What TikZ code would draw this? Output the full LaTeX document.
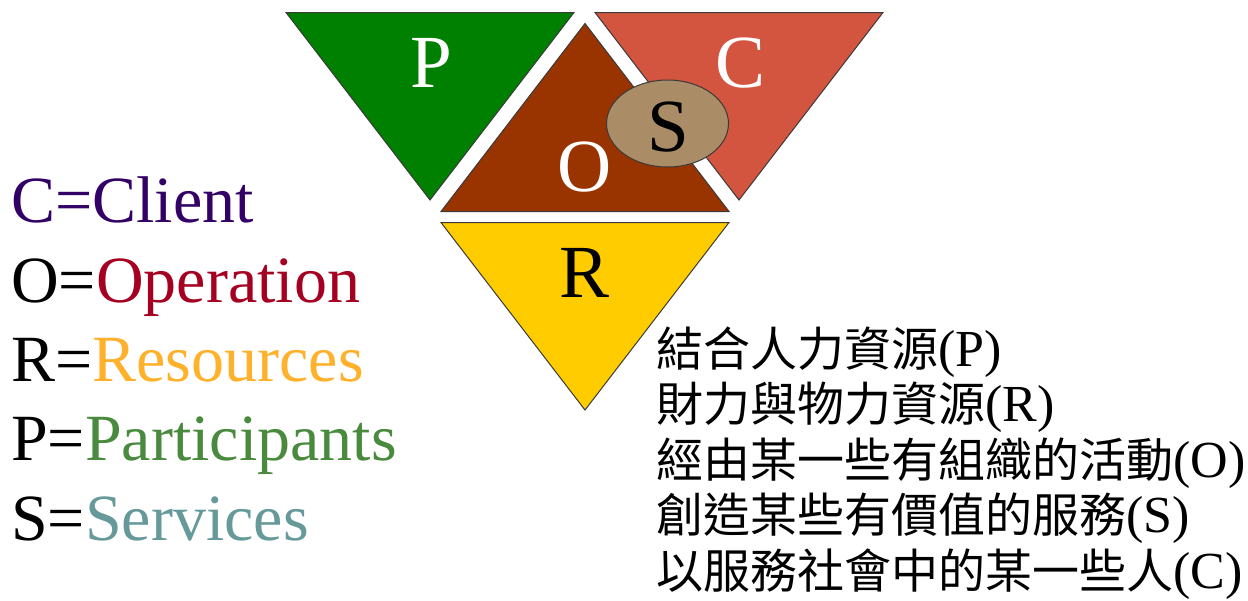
\documentclass[tikz,border=0pt]{standalone}
\usepackage{fontspec}
\usetikzlibrary{shapes.geometric}
\setmainfont{Liberation Serif}
\newfontfamily\cjk{Noto Sans CJK TC}
\newcommand\latpart[1]{{\fontsize{52}{54}\selectfont #1}}
\definecolor{pgreen}{HTML}{008000}
\definecolor{cred}{HTML}{D35540}
\definecolor{obrown}{HTML}{993300}
\definecolor{ryellow}{HTML}{FFCC00}
\definecolor{stan}{HTML}{AA8C66}
\definecolor{edge}{HTML}{3A3A3A}
\definecolor{lclient}{HTML}{330066}
\definecolor{loper}{HTML}{A50021}
\definecolor{lres}{HTML}{FFB12B}
\definecolor{lpart}{HTML}{4A8A3F}
\definecolor{lserv}{HTML}{669999}
\begin{document}
\begin{tikzpicture}[x=1pt,y=-1pt,
  tri/.style={draw=edge,line width=1pt,line join=miter},
  big/.style={inner sep=0,anchor=base,font=\fontsize{75}{80}\selectfont},
  legend/.style={inner sep=0,anchor=base west,font=\fontsize{66}{70}\selectfont},
  zh/.style={inner sep=0,anchor=base west,font=\fontsize{47}{50}\selectfont}]
\useasboundingbox (0,0) rectangle (1248,600);
% triangles
\fill[white] (0,0) rectangle (1248,600);
\draw[tri,fill=pgreen] (286,12.5) -- (574,12.5) -- (430,200) -- cycle;
\draw[tri,fill=cred] (595,12.5) -- (883,12.5) -- (739,200) -- cycle;
\draw[tri,fill=obrown] (585,23.5) -- (729,211.5) -- (441,211.5) -- cycle;
\draw[tri,fill=ryellow] (441,222.5) -- (729,222.5) -- (585,410) -- cycle;
\node[ellipse,draw=edge,line width=1pt,fill=stan,minimum width=122pt,minimum height=87pt,inner sep=0] (sell) at (667.5,123.5) {};
% letters
\node[big,text=white] (lp) at (431,87) {P};
\node[big,text=white] (lc) at (741,87) {C};
\node[big,text=white] (lo) at (585,191) {O};
\node[big,text=black] (ls) at (668,151) {S};
\node[big,text=black] (lr) at (585,297) {R};
% legend
\node[legend] (c1) at (11,222.5) {\textcolor{lclient}{C=Client}};
\node[legend] (c2) at (11,302) {O=\textcolor{loper}{Operation}};
\node[legend] (c3) at (11,381) {R=\textcolor{lres}{Resources}};
\node[legend] (c4) at (11,460.5) {P=\textcolor{lpart}{Participants}};
\node[legend] (c5) at (11,540) {S=\textcolor{lserv}{Services}};
% chinese lines
\node[zh] (z1) at (656,366) {{\cjk 結合人力資源}\latpart{(P)}};
\node[zh] (z2) at (656,421.5) {{\cjk 財力與物力資源}\latpart{(R)}};
\node[zh] (z3) at (656,477) {{\cjk 經由某一些有組織的活動}\latpart{(O)}};
\node[zh] (z4) at (656,532.5) {{\cjk 創造某些有價值的服務}\latpart{(S)}};
\node[zh] (z5) at (656,588) {{\cjk 以服務社會中的某一些人}\latpart{(C)}};
\end{tikzpicture}
\end{document}
